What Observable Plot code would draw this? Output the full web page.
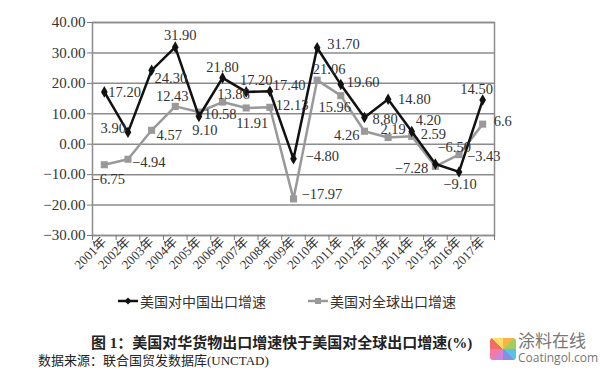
<!DOCTYPE html>
<html>
<head>
<meta charset="utf-8">
<script src="https://cdn.jsdelivr.net/npm/d3@7"></script>
<script src="https://cdn.jsdelivr.net/npm/@observablehq/plot@0.6"></script>
<style>
  html, body { margin: 0; padding: 0; background: #fff; }
  #wrap { position: relative; width: 600px; height: 378px; overflow: hidden; font-family: "Liberation Serif", "Noto Sans CJK SC", serif; }
  #chart { position: absolute; left: 0; top: 0; }
  .legend { position: absolute; top: 291px; left: 0; width: 600px; height: 20px; font-size: 14px; color: #333; font-family: "Liberation Serif", "Noto Sans CJK SC", serif; }
  .legend .item { position: absolute; display: flex; align-items: center; white-space: nowrap; }
  .legend svg { margin-right: 2px; }
  .caption { position: absolute; top: 331px; left: 91px; font-size: 15px; font-weight: bold; color: #222; white-space: nowrap; font-family: "Liberation Serif", "Noto Sans CJK SC", serif; }
  .source { position: absolute; top: 350px; left: 38px; font-size: 13px; color: #222; white-space: nowrap; font-family: "Liberation Serif", "Noto Sans CJK SC", serif; }
  .wm { position: absolute; left: 490px; top: 336px; width: 110px; height: 26px; }
  .wm .icon { position: absolute; left: 0; top: 2px; width: 26px; height: 22px; border-radius: 3px;
    background: conic-gradient(#f6a623 0 45deg, #8ec63f 45deg 90deg, #3bb6e6 90deg 135deg, #6b7fd7 135deg 180deg, #c86dd7 180deg 225deg, #f06292 225deg 270deg, #ef5350 270deg 315deg, #ffd54f 315deg 360deg); opacity: 0.85; }
  .wm .t1 { position: absolute; left: 28px; top: -5px; font-size: 17px; color: #777; font-family: "Noto Sans CJK SC", sans-serif; line-height: 17px; }
  .wm .t2 { position: absolute; left: 28px; top: 16px; font-size: 12px; color: #777; font-family: "Open Sans", sans-serif; line-height: 12px; }
</style>
</head>
<body>
<div id="wrap">
  <div id="chart"></div>
  <div class="legend" id="legend"></div>
  <div class="caption">图 1：美国对华货物出口增速快于美国对全球出口增速(%)</div>
  <div class="source">数据来源：联合国贸发数据库(UNCTAD)</div>
  <div class="wm"><div class="icon"></div><div class="t1">涂料在线</div><div class="t2">Coatingol.com</div></div>
</div>
<script>
// ---- data ----
const years = ["2001年","2002年","2003年","2004年","2005年","2006年","2007年","2008年","2009年","2010年","2011年","2012年","2013年","2014年","2015年","2016年","2017年"];
const chinaValues = [17.20, 3.90, 24.30, 31.90, 9.10, 21.80, 17.20, 17.40, -4.80, 31.70, 19.60, 8.80, 14.80, 4.20, -6.50, -9.10, 14.50];
const worldValues = [-6.75, -4.94, 4.57, 12.43, 10.58, 13.86, 11.91, 12.13, -17.97, 21.06, 15.96, 4.26, 2.19, 2.59, -7.28, -3.43, 6.6];
const chinaLabels = ["17.20","3.90","24.30","31.90","9.10","21.80","17.20","17.40","−4.80","31.70","19.60","8.80","14.80","4.20","−6.50","−9.10","14.50"];
const worldLabels = ["−6.75","−4.94","4.57","12.43","10.58","13.86","11.91","12.13","−17.97","21.06","15.96","4.26","2.19","2.59","−7.28","−3.43","6.6"];
const seriesNames = ["美国对中国出口增速", "美国对全球出口增速"];
const yTicks = [-30, -20, -10, 0, 10, 20, 30, 40];

// ---- label placement (style only): [anchor, dx, dy] ----
const chinaPlace = [["start",4,0],["end",-2,-4],["start",3,8],["middle",5,-12],["middle",6,14],["middle",0,-11],["middle",10,-12],["start",3,-6],["start",12,-2],["start",10,-3],["start",6,-2],["start",8,2],["start",10,0],["start",4,-11],["start",2,-17],["middle",1,12],["middle",-6,-11]];
const worldPlace = [["middle",4,15],["start",4,3],["start",5,5],["middle",-3,-10],["start",5,2],["middle",11,-8],["middle",6,15],["start",6,-2],["start",8,-5],["middle",12,-11],["middle",-6,12],["end",-5,4],["middle",5,-8],["start",9,-2],["end",-7,2],["start",8,2],["start",11,-3]];

const W = 600, H = 290;
const mL = 92, mR = 106, mT = 22, mB = 55;
const bw = (W - mL - mR) / years.length;

const china = years.map((y, i) => ({year: y, value: chinaValues[i], label: chinaLabels[i], place: chinaPlace[i]}));
const world = years.map((y, i) => ({year: y, value: worldValues[i], label: worldLabels[i], place: worldPlace[i]}));

function labelMarks(data, fill) {
  return data.map(d => Plot.text([d], {
    x: "year", y: "value", text: "label",
    textAnchor: d.place[0], dx: d.place[1], dy: d.place[2],
    fill, fontSize: 14.5, fontFamily: "Liberation Serif, serif"
  }));
}

const serif = "Liberation Serif, Noto Sans CJK SC, serif";

const plot = Plot.plot({
  width: W, height: H,
  marginLeft: mL, marginRight: mR, marginTop: mT, marginBottom: mB,
  style: {background: "transparent", fontFamily: serif, overflow: "visible"},
  x: {type: "band", domain: years, padding: 0, round: false, label: null},
  y: {domain: [-30, 40], label: null},
  marks: [
    Plot.ruleY(yTicks, {stroke: "#8c8c8c", strokeWidth: 1.5}),
    Plot.frame({stroke: "#8c8c8c", strokeWidth: 1.5}),
    Plot.axisY({ticks: yTicks, tickFormat: d3.format(".2f"), tickSize: 5, tickPadding: 2, fontSize: 15, fontFamily: serif, stroke: "#777", color: "#333", label: null}),
    Plot.axisX({tickSize: 5, dx: -bw / 2, tickFormat: () => "", stroke: "#777", label: null}),
    Plot.axisX({ticks: [years[years.length - 1]], tickSize: 5, dx: bw / 2, tickFormat: () => "", stroke: "#777", label: null}),
    Plot.axisX({tickSize: 0, tickRotate: -45, tickPadding: 4, fontSize: 13, fontFamily: serif, fill: "#333", label: null}),
    Plot.line(world, {x: "year", y: "value", stroke: "#999", strokeWidth: 2.5}),
    Plot.dot(world, {x: "year", y: "value", symbol: "square", r: 4, fill: "#999", stroke: "none"}),
    Plot.line(china, {x: "year", y: "value", stroke: "#111", strokeWidth: 2.5}),
    Plot.dot(china, {x: "year", y: "value", symbol: "diamond", r: 3.5, fill: "#111", stroke: "none"}),
    ...labelMarks(world, "#333"),
    ...labelMarks(china, "#333")
  ]
});
document.getElementById("chart").appendChild(plot);

// legend
const legend = document.getElementById("legend");
const items = [
  {name: seriesNames[0], color: "#111", shape: "diamond", left: 118},
  {name: seriesNames[1], color: "#999", shape: "square", left: 308}
];
for (const it of items) {
  const div = document.createElement("div");
  div.className = "item";
  div.style.left = it.left + "px";
  const marker = it.shape === "diamond"
    ? `<path d="M10,6.5 L13.5,10 L10,13.5 L6.5,10 Z" fill="${it.color}"/>`
    : `<rect x="7" y="7" width="6" height="6" fill="${it.color}"/>`;
  div.innerHTML = `<svg width="20" height="20"><line x1="0" y1="10" x2="20" y2="10" stroke="${it.color}" stroke-width="2.5"/>${marker}</svg><span>${it.name}</span>`;
  legend.appendChild(div);
}
</script>
</body>
</html>
